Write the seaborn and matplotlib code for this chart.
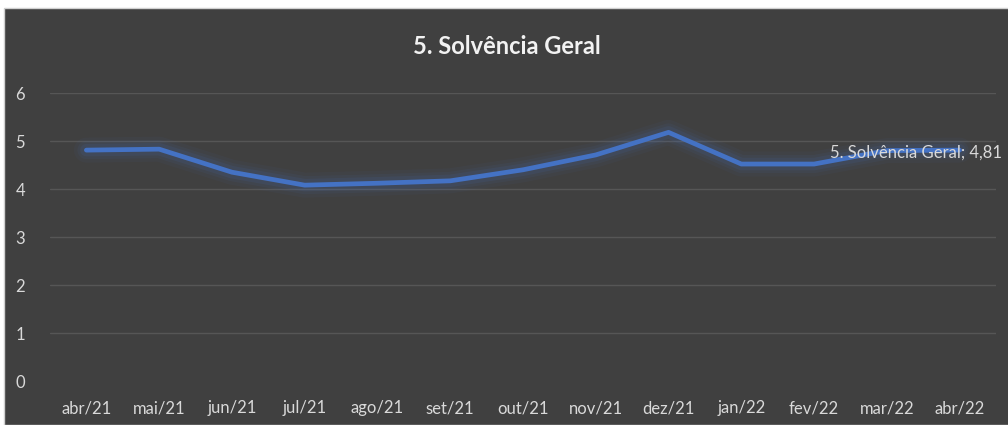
import seaborn as sns
import matplotlib.pyplot as plt
import matplotlib.patches as mpatches
import pandas as pd

# monthly values
meses = ["abr/21", "mai/21", "jun/21", "jul/21", "ago/21", "set/21", "out/21",
         "nov/21", "dez/21", "jan/22", "fev/22", "mar/22", "abr/22"]
solvencia = [4.81, 4.83, 4.35, 4.08, 4.12, 4.17, 4.40, 4.71, 5.18, 4.52, 4.52, 4.80, 4.81]
serie = "5. Solvência Geral"

df = pd.DataFrame({"mes": meses, "valor": solvencia})

sns.set_theme(style="dark")
plt.rcParams["font.family"] = ["Lato", "DejaVu Sans"]

bg = "#404040"
fig = plt.figure(figsize=(10.08, 4.25), dpi=100, facecolor="white")
fig.patches.append(mpatches.Rectangle((4 / 1008, 0), 1, 1 - 8 / 425, transform=fig.transFigure,
                                      facecolor=bg, edgecolor="#d0d0d0", linewidth=1, zorder=-10))
ax = fig.add_axes([50 / 1008, 44 / 425, 946 / 1008, 288 / 425])
ax.set_facecolor(bg)

# gridlines for 1..6 (no visible line at zero)
for v in range(1, 7):
    ax.axhline(v, color="#565656", linewidth=1, zorder=0)

# soft glow under the line
for lw, a in [(18, 0.05), (13, 0.07), (9, 0.10)]:
    sns.lineplot(data=df, x="mes", y="valor", color="#4472C4", linewidth=lw, alpha=a,
                 ax=ax, sort=False, solid_capstyle="round")
sns.lineplot(data=df, x="mes", y="valor", color="#4472C4", linewidth=3.4, ax=ax, sort=False)

ax.set_xlim(-0.5, len(meses) - 0.5)
ax.set_ylim(0, 6)
ax.set_yticks(range(0, 7))
ax.grid(False)
for s in ax.spines.values():
    s.set_visible(False)
ax.tick_params(axis="both", colors="#d9d9d9", labelsize=12, length=0)
ax.tick_params(axis="x", pad=14)
ax.tick_params(axis="y", pad=18)
ax.set_xlabel("")
ax.set_ylabel("")

ax.text(len(meses) - 1 - 1.78, solvencia[-1] - 0.05,
        f"{serie}; {str(solvencia[-1]).replace('.', ',')}",
        color="#d9d9d9", fontsize=12, va="center", ha="left", clip_on=False)

fig.text(507 / 1008, 1 - 47 / 425, serie, color="#f2f2f2", fontsize=17,
         fontweight="bold", ha="center", va="center")

fig.savefig("out.png", dpi=100, facecolor="white")
